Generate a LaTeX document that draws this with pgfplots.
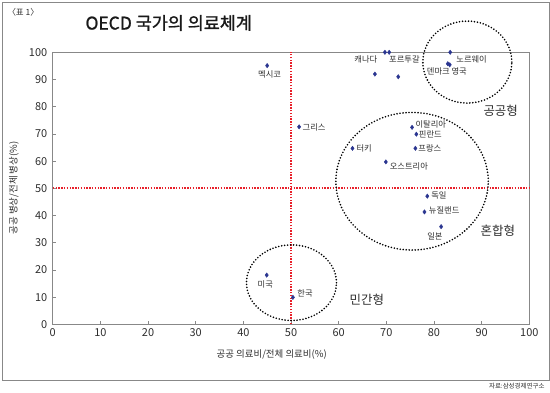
\documentclass[border=0pt]{standalone}
\usepackage{pgfplots}
\pgfplotsset{compat=1.18}
\usepackage{fontspec}
\setmainfont{Noto Sans CJK KR}
\newfontfamily\titlefont[FakeBold=1.2]{Noto Sans CJK KR}
\definecolor{navy}{HTML}{2A3590}
\definecolor{dred}{HTML}{E8202A}
\definecolor{txt}{HTML}{2E2E2E}
\definecolor{frame}{HTML}{888888}
\begin{document}
\begin{tikzpicture}
\useasboundingbox (-52.7bp,-68.7bp) rectangle (497.3bp,324.3bp);
\draw[frame, line width=0.8bp] (-50.7bp,-55.7bp) rectangle (496.3bp,322.3bp);
\node[anchor=west, font=\fontsize{8.5}{10}\selectfont, text=txt] at (-48.7bp,312.3bp) {〈표 1〉};
\node[anchor=west, font=\titlefont\fontsize{17.5}{20}\selectfont, text=black!90] at (29.3bp,301.3bp) {OECD 국가의 의료체계};
\node[anchor=east, font=\fontsize{6.5}{8}\selectfont, text=txt] at (495.3bp,-61.7bp) {자료:삼성경제연구소};
\node[font=\fontsize{9.5}{11}\selectfont, text=txt] at (219bp,-30.7bp) {공공 의료비/전체 의료비(\%)};
\node[rotate=90, font=\fontsize{9.5}{11}\selectfont, text=txt] at (-38.7bp,136.3bp) {공공 병상/전체 병상(\%)};
\begin{axis}[
  at={(0,0)}, anchor=south west,
  scale only axis, width=476.6bp, height=272bp,
  xmin=0, xmax=100, ymin=0, ymax=100,
  xtick={0,10,...,100}, ytick={0,10,...,100},
  axis line style={frame, line width=0.8bp},
  tick align=inside, xtick pos=bottom, ytick pos=left,
  major tick length=3bp, tick style={frame, line width=0.6bp},
  ticklabel style={font=\fontsize{11}{13}\selectfont, text=txt},
  /pgf/number format/assume math mode=true,
  yticklabel style={xshift=-2bp},
  xticklabel style={yshift=-1bp},
  clip=false,
]
\addplot[dred, line width=1.7bp, dash pattern=on 1.4bp off 1.4bp] coordinates {(50,0) (50,100)};
\addplot[dred, line width=1.7bp, dash pattern=on 1.4bp off 1.4bp] coordinates {(0,50) (100,50)};
\draw[black, line width=1.8bp, line cap=round, dash pattern=on 0bp off 3bp] (axis cs:87.0,96.4) ellipse [x radius=44.5bp, y radius=41bp];
\draw[black, line width=1.8bp, line cap=round, dash pattern=on 0bp off 3bp] (axis cs:75.4,52.6) ellipse [x radius=76.2bp, y radius=68.8bp];
\draw[black, line width=1.8bp, line cap=round, dash pattern=on 0bp off 3bp] (axis cs:50.1,15.3) ellipse [x radius=45bp, y radius=37.8bp];
\addplot[only marks, mark=diamond*, mark size=2.2bp, color=navy] coordinates {
(45,95.1) (69.7,100) (70.6,100) (67.6,92.0) (72.5,91.0) (83.4,100) (82.9,95.8) (83.3,95.4)
(51.7,72.6) (75.4,72.4) (76.3,69.9) (62.9,64.7) (76.1,64.7) (69.9,59.7)
(78.6,47.1) (78.0,41.3) (81.5,35.9) (44.9,18.1) (50.4,9.9)
};
\begin{scope}[every node/.style={font=\fontsize{8.3}{9}\selectfont, text=txt, inner sep=0.5bp}]
\node at (axis cs:45.5,92) {멕시코};
\node at (axis cs:65.7,97.3) {캐나다};
\node at (axis cs:73.8,97.3) {포르투갈};
\node at (axis cs:87.9,97.3) {노르웨이};
\node at (axis cs:82.7,93) {덴마크 영국};
\node[anchor=west] at (axis cs:52.3,72.4) {그리스};
\node[anchor=west] at (axis cs:76.0,73.4) {이탈리아};
\node[anchor=west] at (axis cs:76.7,69.9) {핀란드};
\node[anchor=west] at (axis cs:63.6,64.7) {터키};
\node[anchor=west] at (axis cs:76.6,64.7) {프랑스};
\node[anchor=west] at (axis cs:70.6,58.2) {오스트리아};
\node[anchor=west] at (axis cs:79.3,47.2) {독일};
\node[anchor=west] at (axis cs:78.8,41.8) {뉴질랜드};
\node at (axis cs:80.2,32.5) {일본};
\node at (axis cs:44.6,14.8) {미국};
\node[anchor=west] at (axis cs:51.2,11.4) {한국};
\end{scope}
\begin{scope}[every node/.style={font=\fontsize{12.5}{14}\selectfont, text=txt}]
\node at (axis cs:94.0,78.5) {공공형};
\node at (axis cs:93.4,34.4) {혼합형};
\node at (axis cs:65.9,8.9) {민간형};
\end{scope}
\end{axis}
\end{tikzpicture}
\end{document}
